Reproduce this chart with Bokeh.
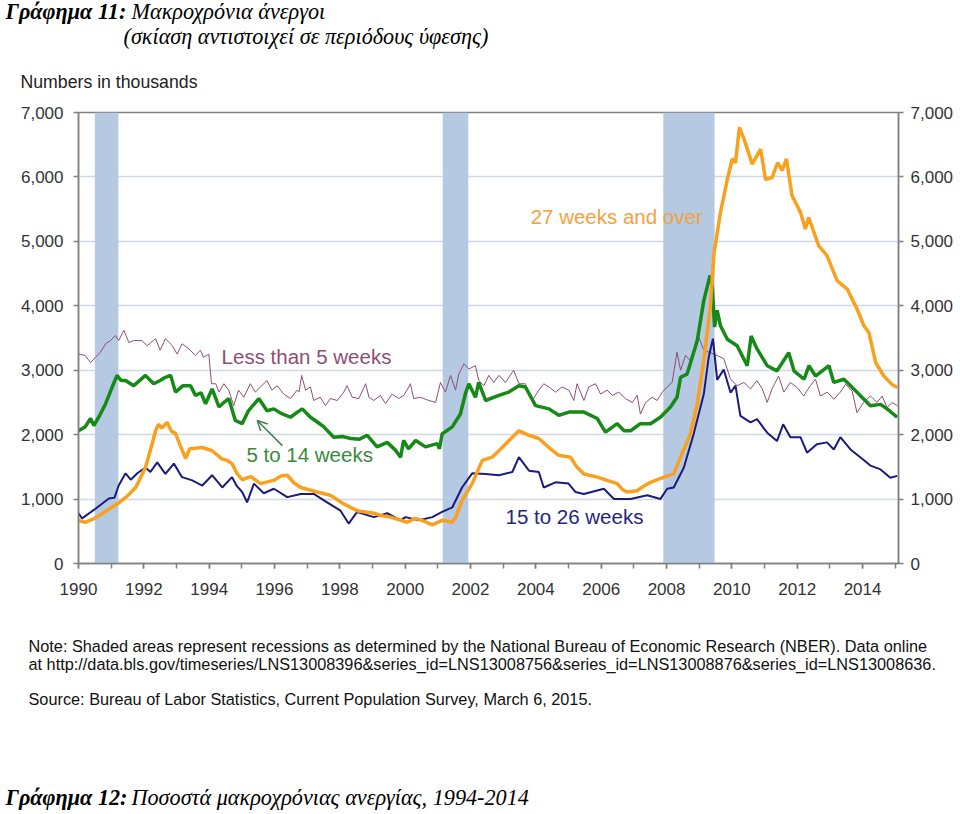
from bokeh.plotting import figure
from bokeh.layouts import column
from bokeh.models import (Range1d, LinearAxis, FixedTicker, NumeralTickFormatter,
                          Label, Arrow, OpenHead)
from bokeh.embed import file_html
from bokeh.resources import INLINE

# ---------------- data (numbers in thousands) ----------------
less_than_5 = [
    (1990.0, 3250), (1990.2, 3230), (1990.37, 3120), (1990.52, 3200), (1990.67, 3280), (1990.83, 3410),
    (1990.98, 3460), (1991.13, 3540), (1991.23, 3460), (1991.39, 3620), (1991.54, 3430), (1991.69, 3460),
    (1991.94, 3460), (1992.1, 3380), (1992.36, 3490), (1992.5, 3310), (1992.66, 3490), (1992.87, 3380),
    (1993.02, 3250), (1993.17, 3410), (1993.38, 3330), (1993.58, 3230), (1993.73, 3310), (1993.83, 3200),
    (1993.99, 3250), (1994.07, 2790), (1994.2, 2790), (1994.3, 2660), (1994.45, 2790), (1994.6, 2690),
    (1994.75, 2450), (1994.9, 2690), (1995.06, 2580), (1995.26, 2790), (1995.41, 2660), (1995.57, 2740),
    (1995.77, 2840), (1995.92, 2690), (1996.08, 2760), (1996.28, 2630), (1996.49, 2560), (1996.69, 2690),
    (1996.75, 2660), (1996.83, 2920), (1996.95, 2690), (1997.1, 2740), (1997.2, 2530), (1997.4, 2580),
    (1997.56, 2450), (1997.71, 2560), (1997.92, 2530), (1998.12, 2660), (1998.22, 2760), (1998.38, 2580),
    (1998.58, 2560), (1998.79, 2790), (1998.89, 2580), (1999.04, 2530), (1999.24, 2610), (1999.4, 2480),
    (1999.6, 2630), (1999.8, 2560), (1999.96, 2610), (2000.11, 2740), (2000.16, 2790), (2000.26, 2560),
    (2000.47, 2580), (2000.72, 2530), (2000.93, 2500), (2001.08, 2810), (2001.23, 2660), (2001.39, 2920),
    (2001.54, 2690), (2001.64, 2940), (2001.8, 3100), (2001.95, 3020), (2002.15, 3070), (2002.25, 2840),
    (2002.41, 2760), (2002.56, 2920), (2002.71, 2810), (2002.87, 2920), (2003.07, 2810), (2003.32, 3000),
    (2003.48, 2790), (2003.68, 2790), (2003.89, 2530), (2004.09, 2690), (2004.24, 2790), (2004.4, 2740),
    (2004.6, 2660), (2004.8, 2740), (2005.01, 2690), (2005.16, 2530), (2005.26, 2790), (2005.47, 2530),
    (2005.62, 2740), (2005.83, 2790), (2005.98, 2630), (2006.18, 2690), (2006.34, 2610), (2006.54, 2660),
    (2006.74, 2560), (2006.95, 2500), (2007.1, 2610), (2007.2, 2320), (2007.36, 2500), (2007.56, 2580),
    (2007.71, 2530), (2007.87, 2660), (2008.02, 2740), (2008.17, 2810), (2008.32, 3280), (2008.43, 3000),
    (2008.58, 3230), (2008.73, 3150), (2008.99, 3510), (2009.14, 3310), (2009.45, 3250), (2009.75, 3180),
    (2009.96, 2860), (2010.16, 2760), (2010.37, 2810), (2010.57, 2710), (2010.77, 2840), (2010.93, 2710),
    (2011.08, 2500), (2011.23, 2710), (2011.43, 2910), (2011.59, 2660), (2011.79, 2810), (2012.0, 2730),
    (2012.2, 2600), (2012.4, 2760), (2012.56, 2860), (2012.71, 2600), (2012.92, 2660), (2013.12, 2550),
    (2013.32, 2660), (2013.48, 2780), (2013.68, 2680), (2013.83, 2340), (2014.03, 2500), (2014.24, 2600),
    (2014.44, 2500), (2014.6, 2600), (2014.75, 2420), (2014.9, 2500), (2015.06, 2450),
]

weeks_5_to_14 = [
    (1990.0, 2060), (1990.2, 2120), (1990.37, 2250), (1990.47, 2140), (1990.65, 2300), (1990.83, 2480),
    (1991.0, 2700), (1991.18, 2920), (1991.3, 2840), (1991.44, 2840), (1991.69, 2760), (1991.85, 2830),
    (1992.05, 2920), (1992.3, 2790), (1992.5, 2840), (1992.66, 2890), (1992.82, 2920), (1992.97, 2660),
    (1993.2, 2760), (1993.43, 2760), (1993.58, 2610), (1993.75, 2650), (1993.89, 2480), (1994.09, 2710),
    (1994.3, 2430), (1994.45, 2500), (1994.6, 2560), (1994.8, 2220), (1995.01, 2170), (1995.2, 2370),
    (1995.52, 2560), (1995.77, 2370), (1995.98, 2400), (1996.2, 2330), (1996.49, 2270), (1996.7, 2350),
    (1996.85, 2400), (1997.1, 2270), (1997.3, 2200), (1997.51, 2120), (1997.81, 1960), (1998.1, 1970),
    (1998.33, 1940), (1998.6, 1930), (1998.84, 1990), (1999.14, 1810), (1999.45, 1880), (1999.7, 1760),
    (1999.86, 1650), (1999.95, 1910), (2000.1, 1780), (2000.32, 1910), (2000.62, 1810), (2000.98, 1860),
    (2001.05, 1780), (2001.13, 2010), (2001.44, 2120), (2001.69, 2320), (2001.85, 2650), (2001.95, 2790),
    (2002.15, 2580), (2002.25, 2810), (2002.46, 2530), (2002.87, 2610), (2003.17, 2660), (2003.48, 2760),
    (2003.68, 2740), (2003.99, 2450), (2004.4, 2400), (2004.7, 2300), (2005.01, 2350), (2005.47, 2350),
    (2005.88, 2250), (2006.13, 2040), (2006.49, 2170), (2006.7, 2060), (2006.9, 2060), (2007.2, 2170),
    (2007.51, 2170), (2007.81, 2270), (2008.12, 2430), (2008.32, 2580), (2008.43, 2890), (2008.63, 2940),
    (2008.94, 3460), (2009.14, 4080), (2009.33, 4470), (2009.4, 4290), (2009.47, 3670), (2009.55, 3930),
    (2009.65, 3690), (2009.86, 3480), (2010.16, 3380), (2010.47, 3070), (2010.59, 3530), (2010.77, 3330),
    (2011.08, 3070), (2011.38, 2990), (2011.74, 3270), (2011.9, 2990), (2012.21, 2860), (2012.36, 3070),
    (2012.56, 2910), (2012.97, 3070), (2013.12, 2810), (2013.43, 2860), (2013.73, 2710), (2014.04, 2550),
    (2014.24, 2450), (2014.55, 2470), (2014.75, 2400), (2015.06, 2270),
]

weeks_15_to_26 = [
    (1990.0, 780), (1990.11, 700), (1990.52, 850), (1990.93, 1010), (1991.1, 1020), (1991.23, 1210),
    (1991.44, 1400), (1991.6, 1300), (1991.8, 1400), (1992.05, 1490), (1992.2, 1420), (1992.41, 1570),
    (1992.66, 1390), (1992.92, 1550), (1993.17, 1340), (1993.48, 1290), (1993.79, 1210), (1994.09, 1370),
    (1994.4, 1180), (1994.7, 1340), (1994.85, 1200), (1995.01, 1110), (1995.16, 950), (1995.37, 1240),
    (1995.67, 1090), (1995.98, 1160), (1996.39, 1030), (1996.8, 1080), (1997.2, 1080), (1997.61, 950),
    (1998.02, 820), (1998.27, 620), (1998.53, 800), (1999.04, 720), (1999.45, 780), (1999.86, 670),
    (2000.01, 720), (2000.42, 670), (2000.83, 720), (2001.13, 800), (2001.44, 870), (2001.74, 1180),
    (2002.05, 1400), (2002.46, 1390), (2002.87, 1370), (2003.28, 1420), (2003.48, 1650), (2003.79, 1440),
    (2004.09, 1420), (2004.24, 1180), (2004.6, 1260), (2005.0, 1240), (2005.21, 1110), (2005.47, 1080),
    (2006.08, 1160), (2006.39, 1000), (2006.9, 1000), (2007.41, 1060), (2007.81, 1000), (2008.02, 1160),
    (2008.22, 1180), (2008.53, 1490), (2008.83, 2010), (2009.14, 2630), (2009.29, 3200), (2009.42, 3490),
    (2009.55, 2850), (2009.75, 3010), (2009.96, 2650), (2010.11, 2760), (2010.26, 2290), (2010.57, 2190),
    (2010.77, 2240), (2011.08, 2030), (2011.38, 1900), (2011.57, 2160), (2011.79, 1960), (2012.1, 1960),
    (2012.3, 1720), (2012.6, 1850), (2012.91, 1880), (2013.12, 1770), (2013.32, 1960), (2013.63, 1770),
    (2013.93, 1650), (2014.24, 1520), (2014.55, 1460), (2014.85, 1330), (2015.06, 1360),
]

weeks_27_and_over = [
    (1990.0, 670), (1990.2, 640), (1990.5, 700), (1990.8, 800), (1991.0, 870), (1991.23, 940),
    (1991.5, 1050), (1991.75, 1180), (1992.05, 1490), (1992.25, 1850), (1992.36, 2060), (1992.45, 2160),
    (1992.55, 2100), (1992.71, 2190), (1992.85, 2050), (1992.97, 2020), (1993.1, 1850), (1993.28, 1630),
    (1993.4, 1780), (1993.79, 1800), (1994.09, 1750), (1994.4, 1620), (1994.55, 1600), (1994.7, 1550),
    (1994.85, 1400), (1995.01, 1300), (1995.27, 1350), (1995.57, 1240), (1995.97, 1290), (1996.2, 1360),
    (1996.39, 1370), (1996.6, 1250), (1996.8, 1180), (1997.3, 1110), (1997.71, 1060), (1998.1, 930),
    (1998.53, 820), (1999.04, 780), (1999.3, 740), (1999.55, 720), (2000.06, 640), (2000.3, 700),
    (2000.52, 670), (2000.83, 600), (2001.13, 670), (2001.44, 640), (2001.55, 720), (2001.74, 980),
    (2002.05, 1240), (2002.36, 1600), (2002.66, 1650), (2002.97, 1800), (2003.28, 1960), (2003.48, 2060),
    (2003.79, 1990), (2004.09, 1940), (2004.4, 1800), (2004.7, 1680), (2005.06, 1650), (2005.25, 1500),
    (2005.47, 1390), (2005.88, 1340), (2006.18, 1290), (2006.49, 1240), (2006.65, 1150), (2006.79, 1110),
    (2007.1, 1130), (2007.3, 1200), (2007.51, 1260), (2007.92, 1340), (2008.22, 1390), (2008.43, 1650),
    (2008.73, 2010), (2008.94, 2480), (2009.14, 3150), (2009.34, 3980), (2009.45, 4800), (2009.65, 5450),
    (2009.86, 5960), (2010.01, 6280), (2010.11, 6220), (2010.23, 6770), (2010.37, 6590), (2010.62, 6200),
    (2010.88, 6430), (2011.03, 5960), (2011.23, 5990), (2011.4, 6220), (2011.54, 6100), (2011.67, 6280),
    (2011.84, 5710), (2012.1, 5450), (2012.25, 5190), (2012.35, 5370), (2012.66, 4930), (2012.91, 4780),
    (2013.22, 4390), (2013.53, 4260), (2013.83, 3950), (2014.04, 3690), (2014.19, 3590), (2014.4, 3120),
    (2014.65, 2910), (2014.9, 2780), (2015.06, 2730),
]

recession_start = [1990.5, 2001.15, 2007.9]
recession_end = [1991.22, 2001.93, 2009.47]

y_ticks = [0, 1000, 2000, 3000, 4000, 5000, 6000, 7000]
x_label_years = list(range(1990, 2015, 2))
x_all_years = list(range(1990, 2016))

# ---------------- layout geometry ----------------
W = 960
HEAD_H = 100      # page rows 0..100
MAIN_H = 510      # page rows 100..610
FOOT_H = 814 - HEAD_H - MAIN_H

def text_fig(h):
    f = figure(width=W, height=h, output_backend="svg", toolbar_location=None,
               x_range=Range1d(0, W), y_range=Range1d(h, 0),
               x_axis_location=None, y_axis_location=None,
               min_border_left=0, min_border_right=0, min_border_top=0, min_border_bottom=0)
    f.grid.visible = False
    f.outline_line_color = None
    f.background_fill_color = "white"
    f.border_fill_color = "white"
    try:
        f.frame_align = False
    except Exception:
        pass
    return f

def put(f, text, X, Y, font, size, style="normal", color="black"):
    f.add_layout(Label(x=X, y=Y, text=text, text_font=font, text_font_size=size,
                       text_font_style=style, text_color=color,
                       text_baseline="middle", text_align="left"))

SERIF = "Liberation Serif"
SANS = "Liberation Sans"
TITLE_SIZE = "22.2px"

# ---------------- header ----------------
head = text_fig(HEAD_H)
put(head, "Γράφημα 11:", 5, 11, SERIF, TITLE_SIZE, "bold italic")
put(head, "Μακροχρόνια άνεργοι", 131, 11, SERIF, TITLE_SIZE, "italic")
put(head, "(σκίαση αντιστοιχεί σε περιόδους ύφεσης)", 123, 36, SERIF, TITLE_SIZE, "italic")
put(head, "Numbers in thousands", 20, 81, SANS, "17.7px", color="#222222")

# ---------------- main chart ----------------
p = figure(width=W, height=MAIN_H, output_backend="svg", toolbar_location=None,
           x_range=Range1d(1990.0, 2015.1), y_range=Range1d(0, 7000),
           min_border_left=78, min_border_right=62, min_border_top=12, min_border_bottom=47)
p.background_fill_color = "white"
p.border_fill_color = "white"
p.outline_line_color = "#808080"
p.outline_line_width = 1.5
try:
    p.frame_align = False
except Exception:
    pass

p.xgrid.visible = False
p.ygrid.ticker = FixedTicker(ticks=y_ticks[1:])
p.ygrid.grid_line_color = "#CFD8E5"
p.ygrid.grid_line_width = 1.5

AX = "#808080"

ya = p.yaxis[0]
ya.ticker = FixedTicker(ticks=y_ticks)
ya.formatter = NumeralTickFormatter(format="0,0")
right = LinearAxis(ticker=FixedTicker(ticks=y_ticks), formatter=NumeralTickFormatter(format="0,0"))
p.add_layout(right, "right")

for ax in (ya, right):
    ax.major_tick_out = 5
    ax.major_tick_in = 0
    ax.minor_tick_out = 0
    ax.minor_tick_in = 0
    ax.axis_line_color = AX
    ax.axis_line_width = 1.5
    ax.major_tick_line_color = AX
    ax.major_tick_line_width = 1.5
    ax.major_label_text_font = SANS
    ax.major_label_text_font_size = "17px"
    ax.major_label_text_color = "#333333"
ya.major_label_standoff = 10
right.major_label_standoff = 7

xa = p.xaxis[0]
xa.ticker = FixedTicker(ticks=x_label_years, minor_ticks=x_all_years)
xa.major_tick_out = 5
xa.major_tick_in = 0
xa.minor_tick_out = 5
xa.minor_tick_in = 0
xa.axis_line_color = AX
xa.axis_line_width = 1.5
xa.major_tick_line_color = AX
xa.minor_tick_line_color = AX
xa.major_tick_line_width = 1.5
xa.minor_tick_line_width = 1.5
xa.major_label_text_font = SANS
xa.major_label_text_font_size = "17px"
xa.major_label_text_color = "#333333"
xa.major_label_standoff = 14

# recession shading
p.quad(left=recession_start, right=recession_end, bottom=0, top=7000,
       fill_color="#B6C9E2", line_color=None)

def xy(series):
    return [a for a, _ in series], [b for _, b in series]

x, y = xy(less_than_5)
p.line(x, y, line_color="#8E4F75", line_width=1)
x, y = xy(weeks_15_to_26)
p.line(x, y, line_color="#1B1B7E", line_width=2)
x, y = xy(weeks_5_to_14)
p.line(x, y, line_color="#168A16", line_width=3.5)
x, y = xy(weeks_27_and_over)
p.line(x, y, line_color="#F9A11E", line_width=3.5)

# series labels
for txt, lx, ly, col in [
    ("27 weeks and over", 2003.84, 5390, "#F3A13C"),
    ("Less than 5 weeks", 1994.38, 3210, "#8E4F75"),
    ("5 to 14 weeks", 1995.14, 1690, "#3A8A3A"),
    ("15 to 26 weeks", 2003.07, 730, "#26267E"),
]:
    p.add_layout(Label(x=lx, y=ly, text=txt, text_font=SANS, text_font_size="20.5px",
                       text_color=col, text_baseline="middle", text_align="left"))

p.add_layout(Arrow(end=OpenHead(size=10, line_color="#3F7F50", line_width=1.5),
                   x_start=1996.24, y_start=1830, x_end=1995.47, y_end=2220,
                   line_color="#3F7F50", line_width=1.5))

# ---------------- footer (page rows 610..814) ----------------
foot = text_fig(FOOT_H)
OFF = HEAD_H + MAIN_H
NOTE_SIZE = "16.3px"
put(foot, "Note:  Shaded areas represent recessions as determined by the National Bureau of Economic Research (NBER).  Data online",
    28, 645 - OFF, SANS, NOTE_SIZE, color="#111111")
put(foot, "at http://data.bls.gov/timeseries/LNS13008396&series_id=LNS13008756&series_id=LNS13008876&series_id=LNS13008636.",
    28, 663 - OFF, SANS, NOTE_SIZE, color="#111111")
put(foot, "Source:  Bureau of Labor Statistics, Current Population Survey, March 6, 2015.",
    28, 698 - OFF, SANS, NOTE_SIZE, color="#111111")
put(foot, "Γράφημα 12:", 5, 797 - OFF, SERIF, TITLE_SIZE, "bold italic")
put(foot, "Ποσοστά μακροχρόνιας ανεργίας, 1994-2014", 131, 797 - OFF, SERIF, TITLE_SIZE, "italic")

layout = column(head, p, foot, spacing=0)
open("out.html", "w").write(file_html(layout, INLINE))
